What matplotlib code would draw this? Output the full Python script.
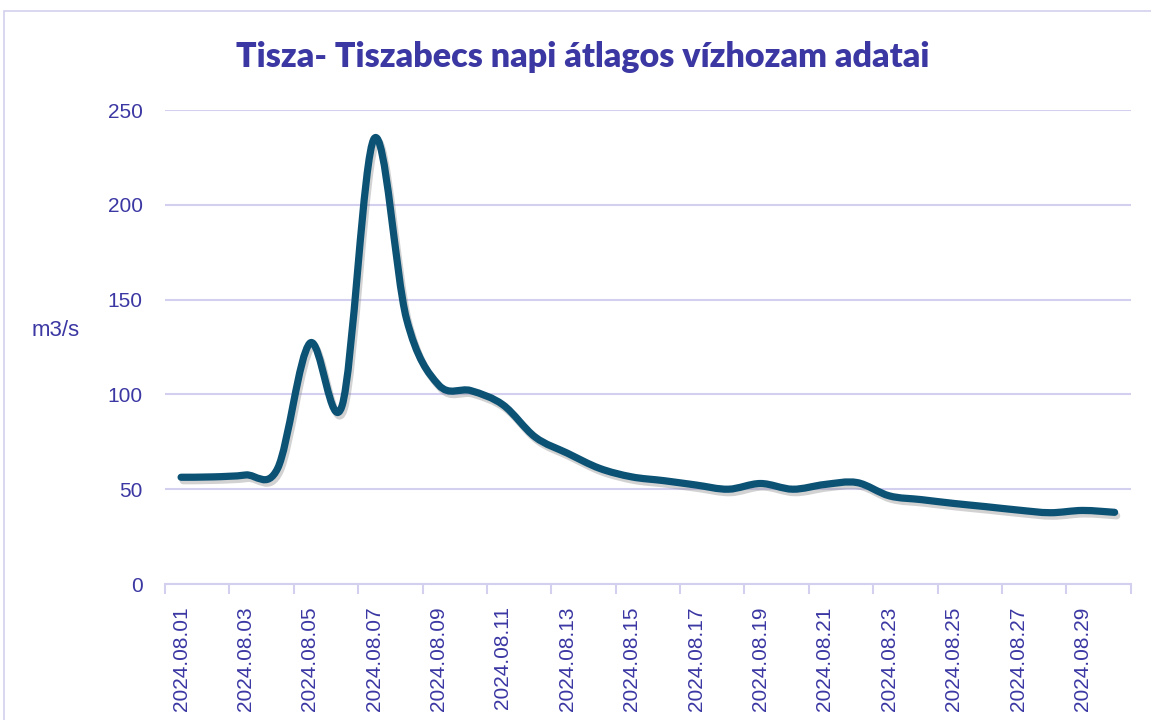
import numpy as np
import matplotlib.pyplot as plt
from matplotlib.path import Path
from matplotlib.patches import PathPatch, Rectangle
import matplotlib.patheffects as pe

# napi átlagos vízhozam, 2024.08.01 - 2024.08.30 (m3/s)
napok = ["2024.08.%02d" % d for d in range(1, 31)]
vizhozam = [56.3, 56.5, 57.5, 61, 127, 94, 235, 140, 105, 102,
            94.5, 77.5, 69, 61, 56.5, 54.5, 52.2, 50, 53, 50,
            52.5, 53.5, 46.5, 44.5, 42.5, 40.8, 39, 37.6, 38.8, 37.8]

szoveg = "#3b37a3"
racs = "#d3d0ef"
vonal = "#0b5275"


# Excel-szerű simított vonal: Catmull-Rom Bezier szakaszok
def simitott_ut(x, y):
    x = np.asarray(x, float)
    y = np.asarray(y, float)
    n = len(x)
    verts = [(x[0], y[0])]
    codes = [Path.MOVETO]
    for i in range(n - 1):
        i0 = max(i - 1, 0)
        i3 = min(i + 2, n - 1)
        c1 = (x[i] + (x[i + 1] - x[i0]) / 6, y[i] + (y[i + 1] - y[i0]) / 6)
        c2 = (x[i + 1] - (x[i3] - x[i]) / 6, y[i + 1] - (y[i3] - y[i]) / 6)
        verts += [c1, c2, (x[i + 1], y[i + 1])]
        codes += [Path.CURVE4] * 3
    return Path(verts, codes)


fig = plt.figure(figsize=(11.51, 7.2), dpi=100)
fig.patches.append(Rectangle((4 / 1151, -0.1), 1.2, 1 - 11 / 720 + 0.1,
                             transform=fig.transFigure, fill=False,
                             edgecolor=racs, lw=1.2))

ax = fig.add_axes([165 / 1151, 136 / 720, 965.7 / 1151, 474 / 720])
xs = np.arange(len(vizhozam))
ut = simitott_ut(xs, vizhozam)
ax.add_patch(PathPatch(ut, facecolor="none", edgecolor=vonal, lw=5.2,
                       capstyle="round", joinstyle="round", zorder=3,
                       path_effects=[pe.SimpleLineShadow(offset=(1.5, -2.5), shadow_color="gray", alpha=0.35),
                                     pe.Normal()]))

ax.set_xlim(-0.5, len(vizhozam) - 0.5)
ax.set_ylim(0, 250)
ax.set_yticks(range(0, 251, 50))
ax.grid(axis="y", color=racs, lw=1.5)
ax.set_axisbelow(True)

ax.set_xticks(xs[::2])
ax.set_xticklabels(napok[::2], rotation=90)
ax.set_xticks(np.arange(-0.5, len(vizhozam), 2), minor=True)
ax.tick_params(axis="x", which="major", length=0, pad=16, labelsize=15, labelcolor=szoveg)
ax.tick_params(axis="x", which="minor", length=7, width=1.5, color=racs)
ax.tick_params(axis="y", length=0, pad=16, labelsize=15, labelcolor=szoveg)

for s in ["top", "right", "left"]:
    ax.spines[s].set_visible(False)
ax.spines["bottom"].set_color(racs)
ax.spines["bottom"].set_linewidth(1.5)

for t in ax.get_xticklabels() + ax.get_yticklabels():
    t.set_family("Liberation Sans")

fig.text(32 / 1151, 1 - 331 / 720, "m3/s", fontsize=16, color=szoveg,
         family="Liberation Sans", va="center", ha="left")
fig.text(583 / 1151, 1 - 57 / 720, "Tisza- Tiszabecs napi átlagos vízhozam adatai",
         fontsize=24.5, fontweight="heavy", color=szoveg, family="Lato",
         ha="center", va="center")

fig.savefig("out.png", dpi=100)
